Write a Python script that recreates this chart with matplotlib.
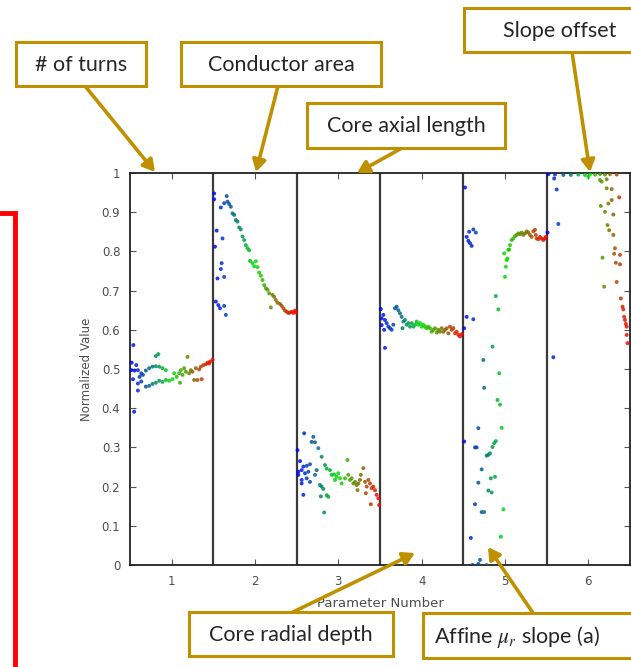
"""
Normalized parameter values over the optimisation run, one column per parameter,
with the callout boxes pointing at each column.
"""

import matplotlib.pyplot as plt
from matplotlib.colors import LinearSegmentedColormap
from matplotlib.patches import Rectangle

plt.rcParams["mathtext.fontset"] = "stix"

# Данные: доля прогона (0..1) и нормированное значение параметра

p1_t = [0.04, 0.02, 0.075, 0.016, 0.055, 0.095, 0.135, 0.036, 0.115, 0.155, 0.095, 0.135, 0.095, 0.05,
        0.19, 0.23, 0.27, 0.31, 0.35, 0.39, 0.43, 0.31, 0.34,
        0.19, 0.23, 0.27, 0.31, 0.35, 0.39, 0.43, 0.47, 0.51,
        0.53, 0.56, 0.59, 0.61, 0.63, 0.60, 0.65, 0.69, 0.67, 0.71,
        0.73, 0.75, 0.77, 0.79, 0.81, 0.83, 0.85, 0.86,
        0.88, 0.91, 0.93, 0.96, 0.99, 0.95]
p1_v = [0.561, 0.516, 0.510, 0.497, 0.496, 0.497, 0.489, 0.474, 0.480, 0.485, 0.463, 0.468, 0.445, 0.391,
        0.496, 0.502, 0.506, 0.507, 0.506, 0.502, 0.497, 0.533, 0.538,
        0.455, 0.457, 0.462, 0.465, 0.470, 0.467, 0.472, 0.470, 0.474,
        0.489, 0.480, 0.489, 0.497, 0.485, 0.465, 0.502, 0.531, 0.493, 0.489,
        0.497, 0.493, 0.472, 0.502, 0.472, 0.499, 0.506, 0.474,
        0.510, 0.512, 0.516, 0.519, 0.523, 0.514]

p2_t = [0.01, 0.01, 0.09, 0.16, 0.13, 0.17, 0.19, 0.21, 0.23, 0.25, 0.27, 0.29, 0.31, 0.33, 0.35,
        0.37, 0.39, 0.41, 0.43,
        0.04, 0.11, 0.02, 0.10, 0.09, 0.05, 0.13, 0.03, 0.06, 0.08, 0.13, 0.15,
        0.44, 0.47, 0.49, 0.51, 0.53, 0.55, 0.57, 0.59, 0.61, 0.63, 0.65, 0.67, 0.69, 0.71,
        0.73, 0.75, 0.77, 0.80, 0.82, 0.84, 0.86, 0.88, 0.90, 0.92, 0.94, 0.96, 0.98, 0.99]
p2_v = [0.948, 0.933, 0.912, 0.941, 0.923, 0.927, 0.921, 0.914, 0.897, 0.893, 0.880, 0.876, 0.861, 0.856, 0.838,
        0.829, 0.816, 0.808, 0.803,
        0.853, 0.833, 0.812, 0.770, 0.755, 0.731, 0.735, 0.672, 0.663, 0.655, 0.661, 0.638,
        0.776, 0.770, 0.762, 0.775, 0.760, 0.746, 0.738, 0.727, 0.714, 0.706, 0.702, 0.693, 0.657, 0.689,
        0.684, 0.676, 0.669, 0.666, 0.661, 0.655, 0.649, 0.646, 0.643, 0.644, 0.646, 0.643, 0.649, 0.644]

p3_t = [0.09, 0.20, 0.18, 0.22, 0.26, 0.01, 0.04, 0.08, 0.12, 0.16, 0.02, 0.06, 0.10, 0.14,
        0.02, 0.06, 0.12, 0.16, 0.06, 0.08, 0.24, 0.22, 0.28, 0.30, 0.32, 0.29, 0.36, 0.38, 0.33,
        0.30, 0.34, 0.36, 0.40, 0.42, 0.45, 0.48, 0.50, 0.52, 0.46, 0.54,
        0.61, 0.58, 0.62, 0.64, 0.66, 0.68, 0.70, 0.72, 0.74, 0.76, 0.77, 0.80, 0.73,
        0.82, 0.84, 0.83, 0.86, 0.88, 0.90, 0.92, 0.94, 0.96, 0.89, 0.98, 0.99]
p3_v = [0.336, 0.327, 0.314, 0.313, 0.298, 0.293, 0.265, 0.251, 0.253, 0.257, 0.238, 0.242, 0.234, 0.238,
        0.230, 0.217, 0.221, 0.212, 0.208, 0.179, 0.242, 0.230, 0.204, 0.200, 0.194, 0.175, 0.178, 0.174, 0.134,
        0.276, 0.255, 0.246, 0.242, 0.230, 0.231, 0.225, 0.234, 0.221, 0.217, 0.208,
        0.268, 0.221, 0.230, 0.217, 0.221, 0.208, 0.212, 0.204, 0.208, 0.217, 0.230, 0.247, 0.191,
        0.212, 0.200, 0.183, 0.217, 0.208, 0.196, 0.200, 0.191, 0.179, 0.155, 0.170, 0.153]

p4_t = [0.01, 0.02, 0.04, 0.06, 0.02, 0.08, 0.05, 0.10, 0.12, 0.14, 0.06, 0.16, 0.18, 0.20, 0.22,
        0.24, 0.26, 0.28, 0.30, 0.32, 0.27, 0.34, 0.36, 0.38, 0.40, 0.42, 0.44, 0.46, 0.48, 0.50,
        0.52, 0.54, 0.56, 0.58, 0.60, 0.62, 0.64, 0.66, 0.68, 0.70, 0.72, 0.74, 0.76, 0.78, 0.80,
        0.82, 0.84, 0.86, 0.88, 0.90, 0.92, 0.94, 0.96, 0.98]
p4_v = [0.653, 0.629, 0.638, 0.625, 0.612, 0.617, 0.600, 0.608, 0.604, 0.600, 0.554, 0.613, 0.655, 0.659, 0.650,
        0.642, 0.633, 0.621, 0.625, 0.613, 0.604, 0.617, 0.608, 0.617, 0.608, 0.613, 0.621, 0.613, 0.617, 0.608,
        0.613, 0.608, 0.604, 0.608, 0.604, 0.595, 0.600, 0.604, 0.593, 0.600, 0.595, 0.604, 0.595, 0.600, 0.604,
        0.591, 0.608, 0.600, 0.604, 0.591, 0.595, 0.587, 0.583, 0.589]

p5_t = [0.02, 0.07, 0.12, 0.15, 0.04, 0.06, 0.08, 0.10, 0.04, 0.12, 0.01, 0.01, 0.18, 0.14, 0.16,
        0.22, 0.18, 0.14, 0.22, 0.25, 0.09, 0.20, 0.18, 0.28, 0.11,
        0.24, 0.25, 0.35, 0.30, 0.32, 0.28, 0.35, 0.37, 0.39, 0.33, 0.38, 0.30, 0.34,
        0.39, 0.42, 0.43, 0.41, 0.44, 0.46, 0.48, 0.45,
        0.50, 0.51, 0.52, 0.53, 0.49, 0.54, 0.56, 0.55, 0.58, 0.60, 0.62, 0.64, 0.66, 0.68,
        0.70, 0.72, 0.74, 0.76, 0.78, 0.80, 0.82, 0.84, 0.86, 0.87, 0.88, 0.90, 0.92, 0.94,
        0.96, 0.98, 0.99]
p5_v = [0.963, 0.850, 0.856, 0.848, 0.837, 0.827, 0.821, 0.814, 0.633, 0.627, 0.604, 0.315, 0.349, 0.300, 0.300,
        0.244, 0.210, 0.155, 0.135, 0.135, 0.069, 0.013, 0.003, 0.000, 0.000,
        0.523, 0.452, 0.557, 0.281, 0.285, 0.279, 0.301, 0.311, 0.316, 0.221, 0.225, 0.190, 0.185,
        0.686, 0.652, 0.489, 0.421, 0.409, 0.350, 0.142, 0.072,
        0.735, 0.761, 0.778, 0.782, 0.795, 0.804, 0.816, 0.805, 0.829, 0.833, 0.839, 0.842, 0.846, 0.844,
        0.848, 0.842, 0.846, 0.851, 0.848, 0.842, 0.837, 0.851, 0.855, 0.842, 0.833, 0.831, 0.837, 0.833,
        0.829, 0.833, 0.837]

p6_t = [0.02, 0.10, 0.20, 0.29, 0.38, 0.46, 0.52, 0.58, 0.64, 0.70, 0.76, 0.84, 0.50, 0.64, 0.66,
        0.09, 0.12, 0.14, 0.01, 0.08,
        0.72, 0.72, 0.78, 0.87, 0.78, 0.74, 0.65, 0.70, 0.80, 0.73, 0.75, 0.80,
        0.82, 0.81, 0.88, 0.67, 0.83, 0.88, 0.69, 0.84, 0.89, 0.91, 0.92, 0.93, 0.94, 0.95, 0.96, 0.97, 0.96]
p6_v = [0.997, 0.996, 0.995, 0.995, 0.996, 0.995, 0.997, 0.996, 0.997, 0.996, 0.997, 0.996, 0.990, 0.982, 0.978,
        0.986, 0.958, 0.870, 0.848, 0.530,
        0.984, 0.961, 0.959, 0.938, 0.931, 0.922, 0.916, 0.901, 0.894, 0.867, 0.854, 0.842,
        0.808, 0.794, 0.791, 0.784, 0.771, 0.767, 0.710, 0.722, 0.680, 0.659, 0.652, 0.633, 0.625, 0.615, 0.587, 0.566, 0.608]

param_t = [p1_t, p2_t, p3_t, p4_t, p5_t, p6_t]
param_v = [p1_v, p2_v, p3_v, p4_v, p5_v, p6_v]
param_numbers = [1, 2, 3, 4, 5, 6]

callout_labels = ["# of turns", "Conductor area", "Core axial length", "Slope offset",
                  "Core radial depth", r"Affine $\mu_r$ slope (a)"]

GOLD = "#BF9000"
TEXT_GREY = "#4d4d4d"

cmap = LinearSegmentedColormap.from_list("bgr", ["#0000ff", "#00e000", "#ff0000"])

fig = plt.figure(figsize=(6.31, 6.67), dpi=100)
ax = fig.add_axes([130 / 631, 102 / 667, 500 / 631, 392 / 667])

for k, t_vals, v_vals in zip(param_numbers, param_t, param_v):
    xs = [k - 0.5 + t for t in t_vals]
    ax.scatter(xs, v_vals, c=t_vals, cmap=cmap, vmin=0, vmax=1, s=8, linewidths=0,
               alpha=0.85, zorder=3)

for k in param_numbers[:-1]:
    ax.axvline(k + 0.5, color="#3a3a3a", lw=1.6, zorder=2)

ax.set_xlim(0.5, 6.5)
ax.set_ylim(0, 1)
ax.set_xticks(param_numbers)
ax.set_yticks([i / 10 for i in range(11)])
ax.set_yticklabels(["0", "0.1", "0.2", "0.3", "0.4", "0.5", "0.6", "0.7", "0.8", "0.9", "1"])
ax.tick_params(direction="in", top=True, right=True, length=4, width=0.8,
               colors="#555555", labelsize=8.5, labelcolor=TEXT_GREY, pad=7)
for sp in ax.spines.values():
    sp.set_color("#222222")
    sp.set_linewidth(1.3)
ax.set_xlabel("Parameter Number", fontsize=9.5, color=TEXT_GREY, labelpad=7)
ax.set_ylabel("Normalized Value", fontsize=8.5, color=TEXT_GREY, labelpad=6)

# Слой с подписями поверх графика, координаты в пикселях картинки
ov = fig.add_axes([0, 0, 1, 1], zorder=5)
ov.set_xlim(0, 631)
ov.set_ylim(667, 0)
ov.axis("off")
ov.patch.set_alpha(0)

boxes = [
    (16, 42, 130, 44, "center"),
    (181, 42, 200, 44, "center"),
    (307, 103, 198, 45, "center"),
    (464, 8, 200, 44, 503),
    (189, 612, 204, 44, "center"),
    (423, 613, 220, 45, 434),
]
arrows = [
    ((85, 86), (155, 172)),
    ((278, 86), (256, 172)),
    ((402, 148), (357, 173)),
    ((572, 52), (590, 172)),
    ((293, 612), (415, 553)),
    ((533, 613), (488, 547)),
]

for (bx, by, bw, bh, align), label in zip(boxes, callout_labels):
    ov.add_patch(Rectangle((bx, by), bw, bh, facecolor="white", edgecolor=GOLD, lw=2.2, zorder=4))
    if align == "center":
        ov.text(bx + bw / 2, by + bh / 2 + 1, label, ha="center", va="center",
                fontsize=15.5, family="Lato", color="#262626", zorder=5)
    else:
        ov.text(align, by + bh / 2 + 1, label, ha="left", va="center",
                fontsize=15.5, family="Lato", color="#262626", zorder=5)

for start, end in arrows:
    ov.annotate("", xy=end, xytext=start,
                arrowprops=dict(arrowstyle="-|>,head_length=0.7,head_width=0.4",
                                color=GOLD, lw=2.6, shrinkA=0, shrinkB=0),
                zorder=3)

# красная рамка слева
ov.plot([0, 15, 15], [213, 213, 667], color="#ff0000", lw=3.5, solid_joinstyle="miter", zorder=4)

fig.savefig("out.png", dpi=100)
